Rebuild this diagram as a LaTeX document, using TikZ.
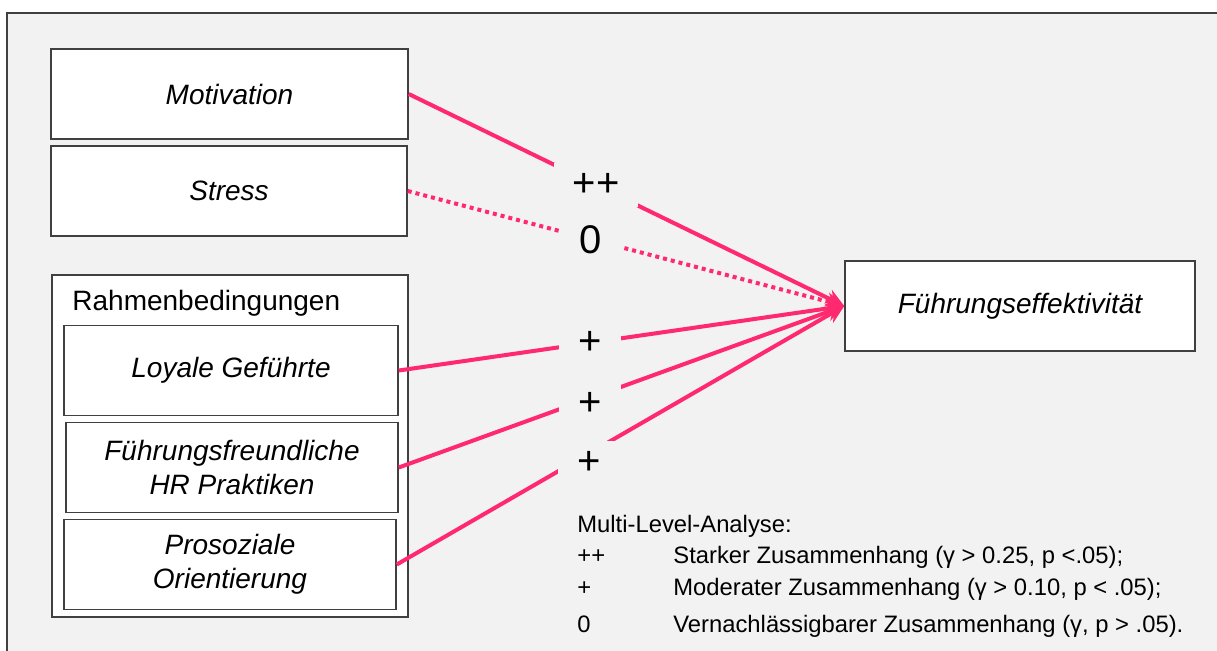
\documentclass[tikz,border=0pt]{standalone}
\usepackage{fontspec}
\setmainfont{Liberation Sans}
\usetikzlibrary{arrows.meta}
\newlength{\du}
\setlength{\du}{0.5pt}
\definecolor{framegray}{rgb}{0.949020, 0.949020, 0.949020}
\definecolor{boxline}{rgb}{0.250000, 0.250000, 0.250000}
\definecolor{linkpink}{rgb}{1.000000, 0.160000, 0.440000}
\tikzset{
  varbox/.style={draw=boxline, fill=white, line width=1.5\du, minimum height=90\du,
    align=center, inner sep=0pt, font=\fontsize{14}{17}\selectfont\itshape},
  effect/.style={draw=linkpink, line width=4\du, -{Stealth[length=9pt, width=9pt]}},
  weakeffect/.style={effect, dash pattern=on 4\du off 4\du},
  sign/.style={fill=framegray, minimum width=62\du, minimum height=44\du, inner sep=0pt,
    text=black, font=\fontsize{20}{24}\selectfont},
  legend/.style={anchor=base west, inner sep=0pt, font=\fontsize{11.9}{14}\selectfont}
}

\begin{document}
\begin{tikzpicture}
\pgftransformxscale{1.000000}
\pgftransformyscale{-1.000000}
\useasboundingbox (0\du,0\du) rectangle (1217\du,650\du);
\clip (0\du,0\du) rectangle (1217\du,650\du);
\fill[white] (0\du,0\du) rectangle (1217\du,650\du);
% background frame
\draw[fill=framegray, draw=boxline, line width=2\du] (7\du,13\du) rectangle (1230\du,665\du);
% variables left
\node[varbox, minimum width=357\du] (motivation) at (229.5\du,94\du) {Motivation};
\node[varbox, minimum width=356\du] (stress) at (229\du,191\du) {Stress};
\node[varbox, minimum width=356\du, minimum height=342\du] (rahmen) at (230\du,446\du) {};
\node[anchor=west, inner sep=0pt, font=\fontsize{14}{17}\selectfont] (rahmenlabel) at (72\du,303\du) {Rahmenbedingungen};
\node[varbox, minimum width=334\du] (loyal) at (231\du,370.5\du) {Loyale Geführte};
\node[varbox, minimum width=332\du] (hrprax) at (232\du,467.5\du) {Führungsfreundliche\\HR Praktiken};
\node[varbox, minimum width=332\du] (prosozial) at (230\du,564.5\du) {Prosoziale\\Orientierung};
% outcome
\node[varbox, minimum width=350\du] (effekt) at (1020\du,306\du) {Führungseffektivität};
% connectors
\draw[effect] (motivation.east) -- node[sign, pos=0.43, minimum width=84\du] (signmot) {++} (effekt.west);
\draw[weakeffect] (stress.east) -- node[sign, pos=0.42] (signstr) {0} (effekt.west);
\draw[effect] (loyal.east) -- node[sign, pos=0.43] (signloy) {+} (effekt.west);
\draw[effect] (hrprax.east) -- node[sign, pos=0.43, yshift=-6\du] (signhr) {+} (effekt.west);
\draw[effect] (prosozial.east) -- node[sign, pos=0.43, yshift=-10\du] (signpro) {+} (effekt.west);
% legend
\node[legend] (leghead) at (577\du,532\du) {Multi-Level-Analyse:};
\node[legend] (legsymA) at (577\du,563\du) {++};
\node[legend] (legtextA) at (673\du,563\du) {Starker Zusammenhang (γ > 0.25, p <.05);};
\node[legend] (legsymB) at (577\du,595\du) {+};
\node[legend] (legtextB) at (673\du,595\du) {Moderater Zusammenhang (γ > 0.10, p < .05);};
\node[legend] (legsymC) at (577\du,632\du) {0};
\node[legend] (legtextC) at (673\du,632\du) {Vernachlässigbarer Zusammenhang (γ, p > .05).};
\end{tikzpicture}
\end{document}
